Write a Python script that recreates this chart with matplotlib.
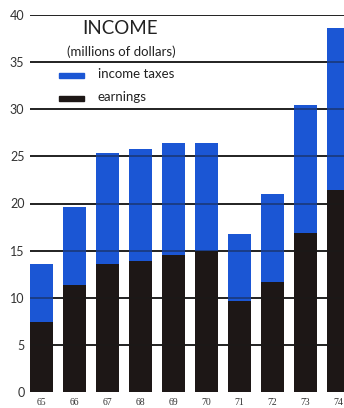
import matplotlib.pyplot as plt
import matplotlib.patches as mpatches

years = ['65', '66', '67', '68', '69', '70', '71', '72', '73', '74']
earnings = [7.4, 11.3, 13.6, 13.9, 14.5, 15.0, 9.7, 11.7, 16.9, 21.4]
income_taxes = [6.2, 8.3, 11.8, 11.9, 11.9, 11.4, 7.1, 9.3, 13.6, 17.2]
yticks = [0, 5, 10, 15, 20, 25, 30, 35, 40]

blue = '#1b56d4'
black = '#1d1716'

plt.rcParams['font.family'] = ['Lato', 'DejaVu Sans']

fig = plt.figure(figsize=(3.44, 4.08), dpi=100)
ax = fig.add_axes([30 / 344, 16 / 408, 1 - 30 / 344, (392 - 15) / 408])

x = list(range(len(years)))
ax.bar(x, earnings, width=0.7, color=black, zorder=2)
ax.bar(x, income_taxes, width=0.7, bottom=earnings, color=blue, zorder=2)

# rules: solid behind the bars, faint where they cross them
for y in yticks[1:]:
    ax.axhline(y, color='#1a1a1a', lw=1.3, zorder=1)
    ax.axhline(y, color='#1a1a1a', lw=1.3, alpha=0.45, zorder=3)

ax.set_xlim(-0.36, 9.17)
ax.set_ylim(0, 40)
ax.set_yticks(yticks)
ax.set_yticklabels([str(v) for v in yticks], fontsize=9, color='#333333')
ax.set_xticks(x)
ax.set_xticklabels(years, fontsize=7, color='#333333', family=['Liberation Serif'])
ax.tick_params(axis='both', length=0)
ax.tick_params(axis='y', pad=4)
ax.tick_params(axis='x', pad=4)
for s in ax.spines.values():
    s.set_visible(False)

fig.text(120 / 344, 1 - 28 / 408, 'INCOME', ha='center', va='center',
         fontsize=13.5, color='#222222')
fig.text(121 / 344, 1 - 52 / 408, '(millions of dollars)', ha='center', va='center',
         fontsize=9.5, color='#222222')

# legend keys
for ypix, col, label in [(75, blue, 'income taxes'), (98, black, 'earnings')]:
    fig.add_artist(mpatches.Rectangle((59 / 344, 1 - (ypix + 2.5) / 408), 25 / 344, 5 / 408,
                                      color=col, transform=fig.transFigure))
    fig.text(98 / 344, 1 - (ypix - 1) / 408, label, ha='left', va='center',
             fontsize=9.5, color='#222222')

plt.savefig('out.png', dpi=100)
